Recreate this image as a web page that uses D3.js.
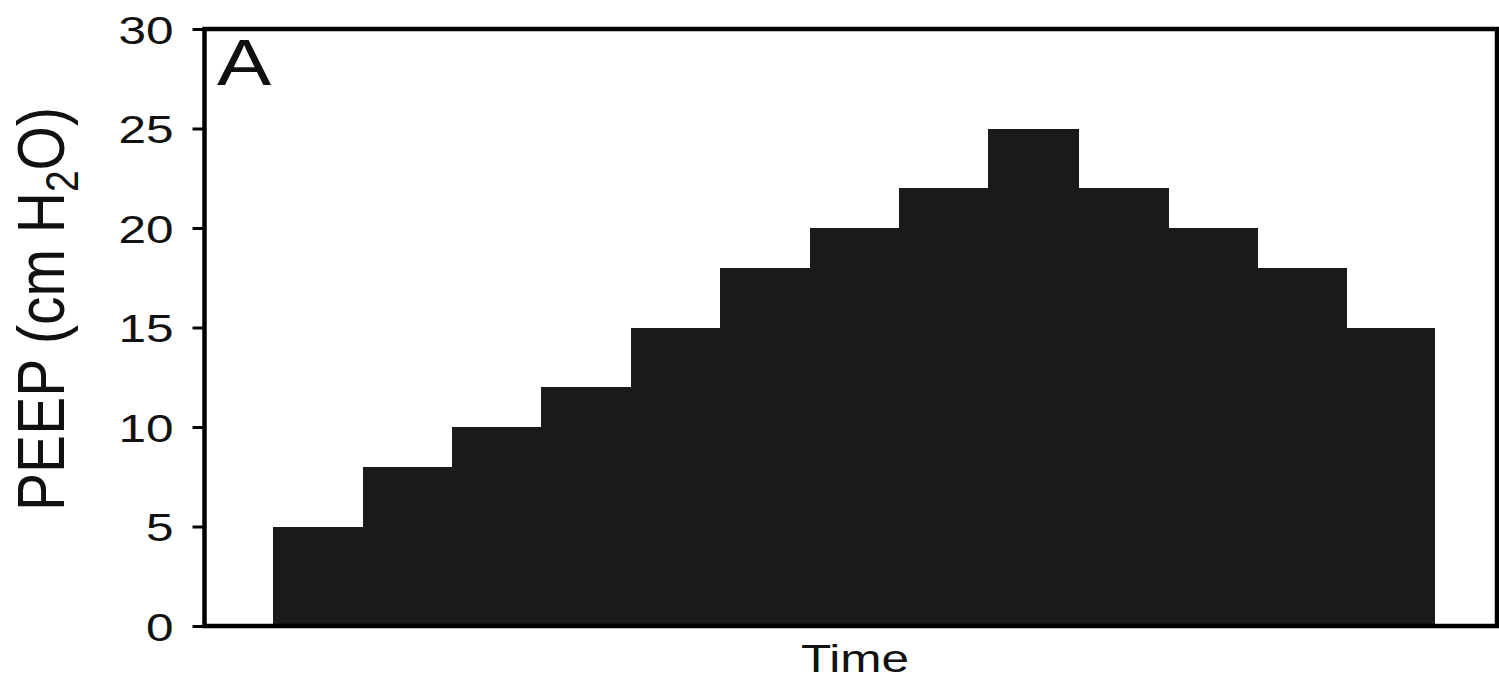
<!DOCTYPE html>
<html>
<head>
<meta charset="utf-8">
<script src="https://cdn.jsdelivr.net/npm/d3@7"></script>
<style>
  html, body { margin: 0; padding: 0; background: #fff; }
  svg { display: block; }
  text { font-family: "Liberation Sans", Arial, Helvetica, sans-serif; fill: #111; }
</style>
</head>
<body>
<svg id="chart" width="1499" height="681"></svg>
<script>
// PEEP titration: one step per interval, stepping up then back down
const stepIndex = [0, 1, 2, 3, 4, 5, 6, 7, 8, 9, 10, 11, 12];
const peepValues = [5, 8, 10, 12, 15, 18, 20, 22, 25, 22, 20, 18, 15];
const yTicks = [0, 5, 10, 15, 20, 25, 30];
const panelLabel = "A";
const xLabel = "Time";

const stretch = 1.27;      // horizontal glyph stretch for horizontal text
const titleStretch = 1.18; // glyph-height stretch for the rotated title

const frame = { left: 204.5, right: 1497, top: 29, bottom: 626 };

const svg = d3.select("#chart");

const x = d3.scaleLinear()
  .domain([-0.77, 13.69])
  .range([frame.left, frame.right]);

const y = d3.scaleLinear()
  .domain([0, 30])
  .range([frame.bottom, frame.top]);

// step bars (slight overlap so neighbouring steps merge without seams)
svg.append("g")
  .attr("shape-rendering", "crispEdges")
  .selectAll("rect")
  .data(stepIndex)
  .join("rect")
  .attr("x", i => x(i))
  .attr("width", i => x(i + 1) - x(i) + (i < stepIndex.length - 1 ? 1.5 : 0))
  .attr("y", i => y(peepValues[i]))
  .attr("height", i => y(0) - y(peepValues[i]))
  .attr("fill", "#1a1a1a");

// frame
svg.append("rect")
  .attr("x", frame.left)
  .attr("y", frame.top)
  .attr("width", frame.right - frame.left)
  .attr("height", frame.bottom - frame.top)
  .attr("fill", "none")
  .attr("stroke", "#000")
  .attr("stroke-width", 4.5);

// y axis ticks and labels
const yAxis = svg.append("g")
  .attr("transform", `translate(${frame.left},0)`)
  .call(d3.axisLeft(y).tickValues(yTicks).tickSize(12).tickFormat(d3.format("d")));
yAxis.select(".domain").remove();
yAxis.selectAll(".tick line").attr("stroke", "#000").attr("stroke-width", 3);
yAxis.selectAll(".tick text")
  .attr("x", 0)
  .attr("dy", "0.36em")
  .attr("transform", `translate(-31,0) scale(${stretch},1)`)
  .attr("text-anchor", "end")
  .style("font-size", "39px")
  .style("font-family", "\"Liberation Sans\", Arial, sans-serif")
  .attr("fill", "#111");

// panel letter
svg.append("text")
  .attr("transform", `translate(217,85) scale(${stretch},1)`)
  .style("font-size", "64px")
  .text(panelLabel);

// x axis title
svg.append("text")
  .attr("transform", `translate(855,672) scale(${stretch},1)`)
  .attr("text-anchor", "middle")
  .style("font-size", "39px")
  .text(xLabel);

// y axis title with subscript
const yTitle = svg.append("text")
  .attr("transform", `translate(64,309) scale(${titleStretch},1) rotate(-90)`)
  .attr("text-anchor", "middle")
  .style("font-size", "57px");
yTitle.append("tspan").text("PEEP (cm H");
yTitle.append("tspan").attr("dy", "0.3em").style("font-size", "39px").text("2");
yTitle.append("tspan").attr("dy", "-0.21em").text("O)");
</script>
</body>
</html>
